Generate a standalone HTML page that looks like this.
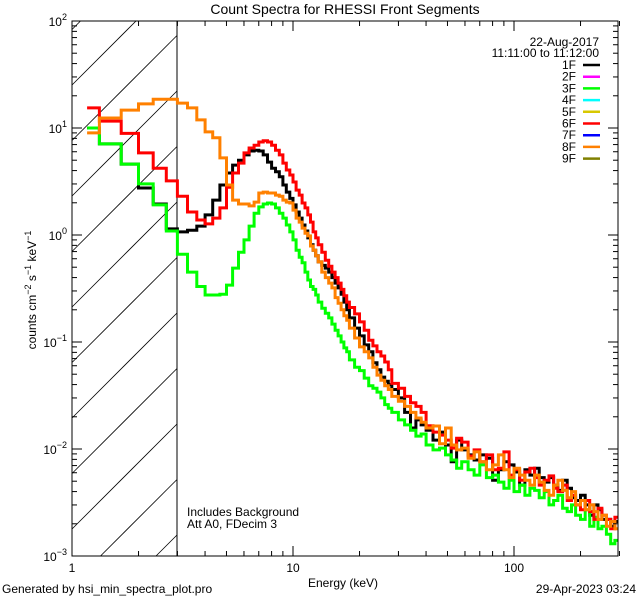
<!DOCTYPE html>
<html><head><meta charset="utf-8"><style>
html,body{margin:0;padding:0;background:#fff;width:640px;height:600px;overflow:hidden;}
svg{display:block;font-family:"Liberation Sans",sans-serif;overflow:hidden;}
</style></head><body>
<svg id="chart" width="640" height="600" viewBox="0 0 640 600">
<defs><clipPath id="plotclip"><rect x="72" y="21" width="546" height="535"/></clipPath></defs>
<text x="345" y="14" font-size="14" text-anchor="middle">Count Spectra for RHESSI Front Segments</text>
<g id="hatch"></g>
<line x1="177" y1="21" x2="177" y2="556" stroke="#000" stroke-width="1"/>
<g id="series" clip-path="url(#plotclip)"></g>
<rect x="72" y="21" width="546" height="535" fill="none" stroke="#000" stroke-width="1"/>
<g id="axes"></g>
<text transform="translate(36,290) rotate(-90)" font-size="12" text-anchor="middle">counts cm<tspan dy="-5" font-size="9">−2</tspan><tspan dy="5"> s</tspan><tspan dy="-5" font-size="9">−1</tspan><tspan dy="5"> keV</tspan><tspan dy="-5" font-size="9">−1</tspan></text>
<text x="343" y="587" font-size="12" text-anchor="middle">Energy (keV)</text>
<text x="2" y="593" font-size="12">Generated by hsi_min_spectra_plot.pro</text>
<text x="636" y="593" font-size="12" text-anchor="end">29-Apr-2023 03:24</text>
<text x="187" y="516" font-size="12">Includes Background</text>
<text x="187" y="528" font-size="12">Att A0, FDecim 3</text>
<text x="599" y="46" font-size="12" text-anchor="end">22-Aug-2017</text>
<text x="599" y="57" font-size="12" text-anchor="end">11:11:00 to 11:12:00</text>
<g id="legend"></g>
</svg>
<script>
const NS="http://www.w3.org/2000/svg";
const edges=[1.17,1.33,1.67,2.0,2.33,2.67,3.0,3.33,3.67,4.0,4.33,4.67,5.0,5.33,5.67,6.0,6.33,6.67,7.0,7.33,7.67,8.0,8.33,8.67,9.0,9.33,9.67,10,10.33,10.67,11,11.33,11.67,12,12.33,12.67,13,13.5,14,14.5,15,15.5,16,16.5,17,17.5,18,19,20,21,22,23,24,25,26,27,28,30,32,34,36,38,40,43,46,49,52,55,58,62,66,70,75,80,85,90,95,100,106,112,118,124,130,137,144,151,158,166,174,182,190,200,210,220,230,240,250,262,274,286,300];
const seg1F=[10,7.1,4.6,2.75,1.95,1.14,1.07,1.11,1.21,1.54,2.12,2.93,3.8,4.5,5.0,5.6,6.1,6.2,6.1,5.6,4.8,4.2,3.9,3.5,2.93,2.52,2.2,1.91,1.64,1.44,1.24,1.09,0.94,0.81,0.72,0.64,0.56,0.52,0.49,0.45,0.40,0.355,0.32,0.28,0.236,0.20,0.168,0.135,0.114,0.094,0.081,0.064,0.055,0.047,0.043,0.040,0.036,0.030,0.022,0.0157,0.0187,0.0168,0.015,0.0121,0.0144,0.0109,0.0076,0.0121,0.0098,0.0088,0.0079,0.0088,0.0082,0.0051,0.0064,0.0076,0.0071,0.0061,0.0046,0.0064,0.0057,0.0066,0.0054,0.0049,0.0054,0.0046,0.0041,0.0051,0.0043,0.0035,0.0033,0.0037,0.003,0.0024,0.003,0.0027,0.0022,0.0022,0.0019,0.0021];
const seg3F=[10,7.1,4.6,3.0,1.91,1.09,0.66,0.45,0.33,0.275,0.275,0.28,0.34,0.49,0.69,0.90,1.21,1.6,1.83,1.95,1.99,1.95,1.79,1.6,1.44,1.24,1.07,0.9,0.72,0.62,0.55,0.45,0.38,0.33,0.31,0.275,0.236,0.207,0.186,0.168,0.147,0.129,0.114,0.10,0.088,0.081,0.068,0.058,0.054,0.046,0.039,0.037,0.034,0.030,0.026,0.024,0.022,0.0187,0.0168,0.015,0.0132,0.0138,0.0109,0.0098,0.0102,0.0088,0.0079,0.0066,0.0076,0.0064,0.0057,0.0071,0.0054,0.0057,0.0049,0.0043,0.0051,0.0040,0.0046,0.0037,0.0043,0.0041,0.0035,0.0040,0.003,0.0033,0.0037,0.0028,0.0026,0.003,0.0024,0.0022,0.0027,0.0019,0.0023,0.0018,0.0019,0.0016,0.0013,0.0014];
const seg6F=[15.4,11.6,8.9,5.85,4.2,3.2,2.3,1.64,1.38,1.27,1.44,1.79,2.8,3.8,4.7,5.85,6.5,6.9,7.4,7.6,7.4,6.9,6.2,5.6,4.7,4.05,3.64,3.13,2.63,2.36,1.99,1.79,1.54,1.32,1.07,0.94,0.81,0.69,0.58,0.51,0.45,0.40,0.355,0.31,0.27,0.236,0.21,0.183,0.154,0.129,0.104,0.092,0.081,0.074,0.065,0.055,0.041,0.037,0.031,0.027,0.025,0.022,0.0165,0.0144,0.0135,0.0121,0.0102,0.0126,0.0116,0.0086,0.0098,0.0076,0.0088,0.0064,0.0066,0.0094,0.0057,0.0064,0.0051,0.0061,0.0066,0.0054,0.0046,0.0051,0.0056,0.0043,0.0040,0.0046,0.0033,0.0037,0.003,0.0027,0.0033,0.0026,0.0022,0.0028,0.0024,0.0022,0.0018,0.0023];
const seg8F=[9.0,12.4,14.7,16.8,18.6,18.6,17.1,15.4,11.9,9.2,8.1,5.25,2.93,2.12,1.95,1.95,1.87,2.03,2.47,2.52,2.47,2.47,2.36,2.3,2.12,2.03,1.99,1.71,1.44,1.32,1.16,1.04,0.98,0.79,0.72,0.64,0.56,0.45,0.40,0.355,0.32,0.26,0.23,0.20,0.176,0.16,0.135,0.109,0.09,0.081,0.071,0.058,0.049,0.044,0.039,0.036,0.031,0.028,0.025,0.022,0.0195,0.0178,0.0157,0.0164,0.0112,0.0157,0.0109,0.0098,0.0102,0.0082,0.0094,0.0076,0.0064,0.0071,0.0088,0.0064,0.0054,0.0066,0.0057,0.0051,0.0046,0.0057,0.0049,0.0041,0.0037,0.0046,0.0051,0.0041,0.0035,0.0040,0.003,0.0033,0.0027,0.003,0.0026,0.0022,0.0024,0.0019,0.0021,0.0018];
const xTickLabels=["1","10","100"];
const yTickExps=["2","1","0","−1","−2","−3"];
const legendLabels=["1F","2F","3F","4F","5F","6F","7F","8F","9F"];
const legendColors=["#000000","#ff00ff","#00ff00","#00ffff","#d8c800","#ff0000","#0000ff","#ff8000","#808000"];

const X0=72,X1=618,Y0=21,Y1=556,XH=177;
function xs(e){return X0+221*Math.log10(e);}
function ys(v){return Y0+(2-Math.log10(v))*107;}

const hatch=document.getElementById('hatch');
for(let k=0;k<12;k++){
  const y0=29.5+55.5*k;
  let sx=X0, sy=y0;
  if(sy>Y1){sx=X0+(sy-Y1);sy=Y1;}
  let ex=XH, ey=y0-(XH-X0);
  if(ey<Y0){ex=X0+(y0-Y0);ey=Y0;}
  if(sx>=ex) continue;
  const l=document.createElementNS(NS,'line');
  l.setAttribute('x1',sx);l.setAttribute('y1',sy);l.setAttribute('x2',ex);l.setAttribute('y2',ey);
  l.setAttribute('stroke','#000');l.setAttribute('stroke-width','0.8');
  
  
  hatch.appendChild(l);
}

const sg=document.getElementById('series');
const seriesList=[[seg1F,"#000000","series-1f"],[seg3F,"#00ff00","series-3f"],[seg6F,"#ff0000","series-6f"],[seg8F,"#ff8000","series-8f"]];
seriesList.forEach(s=>{
  const vals=s[0];let d="";
  for(let i=0;i<vals.length;i++){
    const y=Math.min(Y1,Math.max(Y0,ys(vals[i]))).toFixed(1);
    d+=(i===0?"M":"L")+xs(edges[i]).toFixed(1)+","+y+"L"+Math.min(X1,xs(edges[i+1])).toFixed(1)+","+y;
  }
  const p=document.createElementNS(NS,'path');
  p.setAttribute('d',d);p.setAttribute('fill','none');p.setAttribute('stroke',s[1]);p.setAttribute('stroke-width','3');
  
  
  sg.appendChild(p);
});

const ax=document.getElementById('axes');
function ln(x1,y1,x2,y2,name){
  const l=document.createElementNS(NS,'line');
  l.setAttribute('x1',x1);l.setAttribute('y1',y1);l.setAttribute('x2',x2);l.setAttribute('y2',y2);
  l.setAttribute('stroke','#000');l.setAttribute('stroke-width','1');
  
  
  ax.appendChild(l);
}
for(let dec=0;dec<3;dec++){
  for(let m=1;m<10;m++){
    const e=m*Math.pow(10,dec); if(e>300) break;
    const x=xs(e); const len=(m===1)?10:5;
    ln(x,Y1,x,Y1-len,'x-tick');ln(x,Y0,x,Y0+len,'x-tick');
  }
}
xTickLabels.forEach((t,i)=>{
  const tx=document.createElementNS(NS,'text');
  tx.setAttribute('x',xs(Math.pow(10,i)));tx.setAttribute('y',572);tx.setAttribute('font-size','12');tx.setAttribute('text-anchor','middle');
  tx.textContent=t;
  
  
  ax.appendChild(tx);
});
for(let p=-3;p<2;p++){
  for(let m=1;m<10;m++){
    const v=m*Math.pow(10,p); const y=ys(v); const len=(m===1)?10:5;
    ln(X0,y,X0+len,y,'y-tick');ln(X1,y,X1-len,y,'y-tick');
  }
}
ln(X0,ys(100),X0+10,ys(100),'y-tick');ln(X1,ys(100),X1-10,ys(100),'y-tick');
yTickExps.forEach((t,i)=>{
  const tx=document.createElementNS(NS,'text');
  tx.setAttribute('x',67);tx.setAttribute('y',ys(Math.pow(10,2-i))+5);tx.setAttribute('font-size','12');tx.setAttribute('text-anchor','end');
  tx.innerHTML='10<tspan dy="-6" font-size="9">'+t+'</tspan>';
  
  
  ax.appendChild(tx);
});

const lg=document.getElementById('legend');
legendLabels.forEach((t,i)=>{
  const y=65+11.7*i;
  const tx=document.createElementNS(NS,'text');
  tx.setAttribute('x',576);tx.setAttribute('y',y+4);tx.setAttribute('font-size','12');tx.setAttribute('text-anchor','end');
  tx.textContent=t;
  
  
  lg.appendChild(tx);
  const l=document.createElementNS(NS,'line');
  l.setAttribute('x1',583);l.setAttribute('x2',600);l.setAttribute('y1',y);l.setAttribute('y2',y);
  l.setAttribute('stroke',legendColors[i]);l.setAttribute('stroke-width','2.5');
  
  
  lg.appendChild(l);
});
</script>
</body></html>
